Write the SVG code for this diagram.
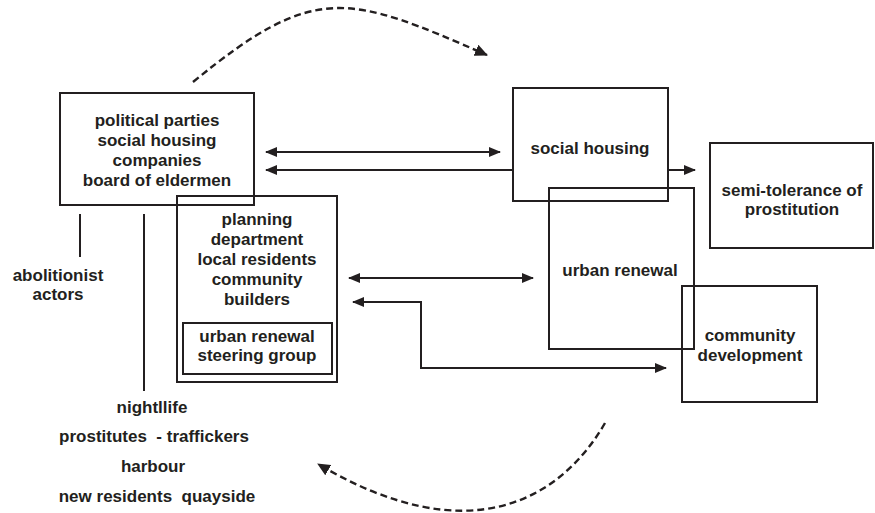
<svg xmlns="http://www.w3.org/2000/svg" width="875" height="513" viewBox="0 0 875 513">
  <style>
    .box { fill: none; stroke: #231f20; stroke-width: 2; }
    .lbl { font-family: "Liberation Sans", Arial, sans-serif; font-size: 17px; font-weight: bold; fill: #231f20; text-anchor: middle; }
    .link { fill: none; stroke: #231f20; stroke-width: 2; }
    .dash { fill: none; stroke: #231f20; stroke-width: 2.4; stroke-dasharray: 7 4; }
  </style>
  <defs>
    <marker id="head" markerUnits="userSpaceOnUse" viewBox="0 0 12 10" markerWidth="12" markerHeight="10" refX="11" refY="5" orient="auto-start-reverse">
      <path d="M0,0 L12,5 L0,10 Z" fill="#231f20"/>
    </marker>
    <marker id="dhead" markerUnits="userSpaceOnUse" viewBox="0 0 13 12" markerWidth="13" markerHeight="12" refX="12" refY="6" orient="auto">
      <path d="M0,0 L13,6 L0,12 Z" fill="#231f20"/>
    </marker>
  </defs>

  <rect width="875" height="513" fill="#ffffff"/>

  <!-- actor groups -->
  <g id="political">
    <rect class="box" x="60" y="93" width="194" height="112"/>
    <text class="lbl" x="157" y="126">political parties</text>
    <text class="lbl" x="157" y="146">social housing</text>
    <text class="lbl" x="157" y="166">companies</text>
    <text class="lbl" x="157" y="186">board of eldermen</text>
  </g>

  <g id="planning">
    <rect class="box" x="177" y="196" width="160" height="186"/>
    <text class="lbl" x="257" y="225">planning</text>
    <text class="lbl" x="257" y="245">department</text>
    <text class="lbl" x="257" y="265">local residents</text>
    <text class="lbl" x="257" y="285">community</text>
    <text class="lbl" x="257" y="305">builders</text>
  </g>

  <g id="steering">
    <rect class="box" x="183" y="323" width="149" height="51"/>
    <text class="lbl" x="257" y="342">urban renewal</text>
    <text class="lbl" x="257" y="361">steering group</text>
  </g>

  <g id="abolitionist">
    <text class="lbl" x="58" y="281">abolitionist</text>
    <text class="lbl" x="58" y="300">actors</text>
  </g>

  <g id="nightlife">
    <text class="lbl" x="152" y="413">nightllife</text>
    <text class="lbl" x="154" y="442" xml:space="preserve">prostitutes  - traffickers</text>
    <text class="lbl" x="153" y="472">harbour</text>
    <text class="lbl" x="157" y="502" xml:space="preserve">new residents  quayside</text>
  </g>

  <!-- policy fields -->
  <g id="social-housing">
    <rect class="box" x="513" y="88" width="155" height="113"/>
    <text class="lbl" x="590" y="154">social housing</text>
  </g>

  <g id="semi-tolerance">
    <rect class="box" x="710" y="143" width="163" height="105"/>
    <text class="lbl" x="792" y="196">semi-tolerance of</text>
    <text class="lbl" x="792" y="215">prostitution</text>
  </g>

  <g id="urban-renewal">
    <rect class="box" x="549" y="188" width="145" height="161"/>
    <text class="lbl" x="620" y="276">urban renewal</text>
  </g>

  <g id="community-development">
    <rect class="box" x="682" y="286" width="135" height="116"/>
    <text class="lbl" x="750" y="341">community</text>
    <text class="lbl" x="750" y="361">development</text>
  </g>

  <!-- connectors -->
  <g id="connectors">
    <line class="link" x1="80" y1="214" x2="80" y2="257"/>
    <line class="link" x1="144" y1="214" x2="144" y2="391"/>
    <line class="link" x1="266" y1="152" x2="500" y2="152" marker-start="url(#head)" marker-end="url(#head)"/>
    <line class="link" x1="513" y1="170" x2="266" y2="170" marker-end="url(#head)"/>
    <line class="link" x1="668" y1="170" x2="695" y2="170" marker-end="url(#head)"/>
    <line class="link" x1="349" y1="278" x2="533" y2="278" marker-start="url(#head)" marker-end="url(#head)"/>
    <polyline class="link" points="353,302 421,302 421,368 666,368" marker-start="url(#head)" marker-end="url(#head)"/>
    <path class="dash" d="M193,82 C316,-19 349,-5 487,55" marker-end="url(#dhead)"/>
    <path class="dash" d="M605,423 C560,501 468,553 318,464" marker-end="url(#dhead)"/>
  </g>
</svg>
